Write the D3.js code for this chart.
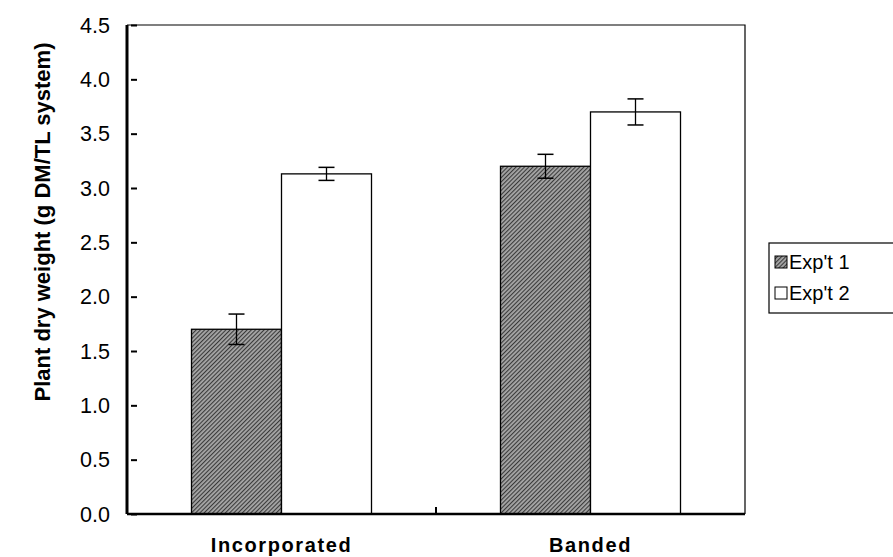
<!doctype html>
<html lang="en">
<head>
<meta charset="utf-8">
<title>Plant dry weight</title>
<style>
  body { margin: 0; background: #fff; }
  text { font-family: "Liberation Sans", Arial, sans-serif; }
</style>
</head>
<body>
<div id="chart"></div>
<script src="https://d3js.org/d3.v7.min.js"></script>
<script>
// data
var categories = ["Incorporated", "Banded"];
var series = ["Exp't 1", "Exp't 2"];
var exp1 = [1.70, 3.20];
var exp1Err = [0.14, 0.11];
var exp2 = [3.13, 3.70];
var exp2Err = [0.06, 0.12];
var yTicks = [0, 0.5, 1, 1.5, 2, 2.5, 3, 3.5, 4, 4.5];

var W = 893, H = 557;
var margin = {left: 127, right: 148, top: 25, bottom: 43};
var plotW = W - margin.left - margin.right,
    plotH = H - margin.top - margin.bottom;

var svg = d3.select("#chart").append("svg")
  .attr("width", W).attr("height", H);

// hatched fill for Exp't 1
var defs = svg.append("defs");
var pat = defs.append("pattern")
  .attr("id", "hatch")
  .attr("patternUnits", "userSpaceOnUse")
  .attr("width", 3).attr("height", 3)
  .attr("patternTransform", "rotate(45)");
pat.append("rect").attr("width", 3).attr("height", 3).attr("fill", "#a6a6a6");
pat.append("rect").attr("width", 1.1).attr("height", 3).attr("fill", "#3a3a3a");

var g = svg.append("g")
  .attr("transform", "translate(" + margin.left + "," + margin.top + ")");

var x = d3.scaleBand().domain(categories).range([0, plotW]);
var y = d3.scaleLinear().domain([0, 4.5]).range([plotH, 0]);
var barW = 90;

// frame (top + right thin)
g.append("path")
  .attr("d", "M0,0H" + plotW + "V" + plotH)
  .attr("fill", "none").attr("stroke", "#000").attr("stroke-width", 1.2);

// bars
var rows = categories.map(function(c, i) {
  return [
    {cat: c, v: exp1[i], e: exp1Err[i], s: 0},
    {cat: c, v: exp2[i], e: exp2Err[i], s: 1}
  ];
}).flat();

var cx = function(d) { return x(d.cat) + x.bandwidth() / 2 + (d.s === 0 ? -barW : 0); };

g.selectAll("rect.bar")
  .data(rows)
  .enter().append("rect")
    .attr("class", "bar")
    .attr("x", cx)
    .attr("y", function(d) { return y(d.v); })
    .attr("width", barW)
    .attr("height", function(d) { return y(0) - y(d.v); })
    .attr("fill", function(d) { return d.s === 0 ? "url(#hatch)" : "#fff"; })
    .attr("stroke", "#000")
    .attr("stroke-width", 1.3);

// error bars
var eb = g.selectAll("g.err").data(rows).enter().append("g").attr("class", "err");
eb.append("line")
  .attr("x1", function(d) { return cx(d) + barW / 2; })
  .attr("x2", function(d) { return cx(d) + barW / 2; })
  .attr("y1", function(d) { return y(d.v + d.e); })
  .attr("y2", function(d) { return y(d.v - d.e); })
  .attr("stroke", "#000").attr("stroke-width", 1.3);
[1, -1].forEach(function(sgn) {
  eb.append("line")
    .attr("x1", function(d) { return cx(d) + barW / 2 - 8; })
    .attr("x2", function(d) { return cx(d) + barW / 2 + 8; })
    .attr("y1", function(d) { return y(d.v + sgn * d.e); })
    .attr("y2", function(d) { return y(d.v + sgn * d.e); })
    .attr("stroke", "#000").attr("stroke-width", 1.5);
});

// y axis, ticks inside
var yAxis = g.append("g")
  .call(d3.axisRight(y).tickValues(yTicks).tickSize(6).tickFormat(""));
yAxis.select(".domain").remove();
yAxis.selectAll("line").attr("stroke-width", 2).attr("transform", "translate(4,0)");
g.append("line").attr("x1", 0).attr("x2", 0).attr("y1", 0).attr("y2", plotH)
  .attr("stroke", "#000").attr("stroke-width", 3);

g.selectAll("text.ytick")
  .data(yTicks)
  .enter().append("text")
    .attr("class", "ytick")
    .attr("x", -17)
    .attr("y", function(d) { return y(d); })
    .attr("dy", "0.35em")
    .attr("text-anchor", "end")
    .attr("font-size", 21.5)
    .text(function(d) { return d3.format(".1f")(d); });

// x axis
g.append("line").attr("x1", 0).attr("x2", plotW).attr("y1", plotH).attr("y2", plotH)
  .attr("stroke", "#000").attr("stroke-width", 2.5);
g.append("line")
  .attr("x1", x("Banded")).attr("x2", x("Banded"))
  .attr("y1", plotH).attr("y2", plotH - 7)
  .attr("stroke", "#000").attr("stroke-width", 2);

g.selectAll("text.xcat")
  .data(categories)
  .enter().append("text")
    .attr("class", "xcat")
    .attr("x", function(d) { return x(d) + x.bandwidth() / 2; })
    .attr("y", plotH + 38)
    .attr("text-anchor", "middle")
    .attr("font-size", 20)
    .attr("font-weight", "bold")
    .attr("letter-spacing", 1.6)
    .text(function(d) { return d; });

// y title
svg.append("text")
  .attr("transform", "translate(50,222) rotate(-90)")
  .attr("text-anchor", "middle")
  .attr("font-size", 22)
  .attr("font-weight", "bold")
  .text("Plant dry weight (g DM/TL system)");

// legend
var leg = svg.append("g").attr("transform", "translate(769,243)");
leg.append("rect").attr("width", 130).attr("height", 70)
  .attr("fill", "#fff").attr("stroke", "#000").attr("stroke-width", 1.2);
series.forEach(function(s, i) {
  var yy = 19 + i * 31;
  leg.append("rect")
    .attr("x", 6).attr("y", yy - 6).attr("width", 12).attr("height", 12)
    .attr("fill", i === 0 ? "url(#hatch)" : "#fff")
    .attr("stroke", "#000").attr("stroke-width", 1);
  leg.append("text")
    .attr("x", 20).attr("y", yy).attr("dy", "0.36em")
    .attr("font-size", 20)
    .text(s);
});
</script>
</body>
</html>
